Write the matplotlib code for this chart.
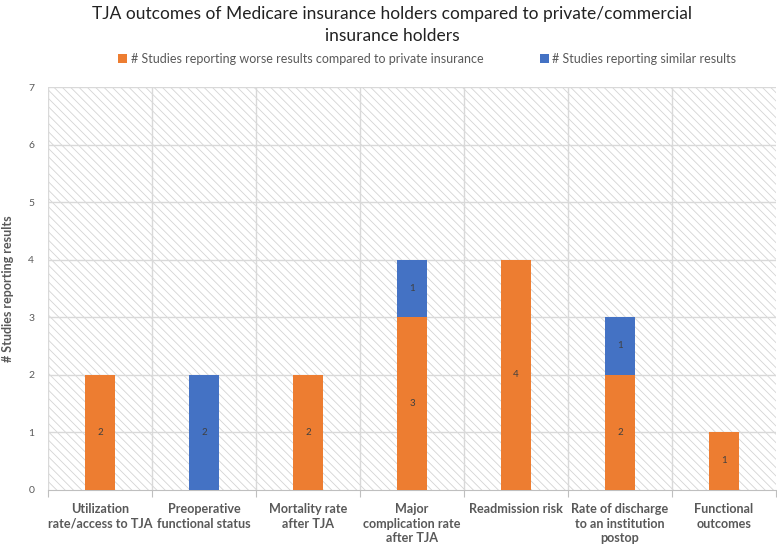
import matplotlib
matplotlib.use("Agg")
import matplotlib.pyplot as plt
import numpy as np
from matplotlib.patches import Rectangle

plt.rcParams['font.family'] = ['Lato', 'DejaVu Sans']
plt.rcParams['hatch.linewidth'] = 0.6
plt.rcParams['hatch.color'] = '#d4d4d4'

categories = ["Utilization\nrate/access to TJA", "Preoperative\nfunctional status",
              "Mortality rate\nafter TJA", "Major\ncomplication rate\nafter TJA",
              "Readmission risk", "Rate of discharge\nto an institution\npostop",
              "Functional\noutcomes"]
worse = [2, 0, 2, 3, 4, 2, 1]
similar = [0, 2, 0, 1, 0, 1, 0]

orange = '#ED7D31'
blue = '#4472C4'
gray = '#595959'

fig = plt.figure(figsize=(7.77, 5.5), dpi=100)
ax = fig.add_axes([0.0618, 0.11, 0.9369, 0.7318])

x = np.arange(len(categories))
w = 0.28

# hatched background
bg = Rectangle((0, 0), 1, 1, transform=ax.transAxes, facecolor='white',
               edgecolor='#d4d4d4', hatch='\\\\\\\\', lw=0, zorder=0)
ax.add_patch(bg)

b1 = ax.bar(x, worse, w, color=orange, zorder=3,
            label='# Studies reporting worse results compared to private insurance')
b2 = ax.bar(x, similar, w, bottom=worse, color=blue, zorder=3,
            label='# Studies reporting similar results')

for i in range(len(x)):
    if worse[i] > 0:
        ax.text(x[i], worse[i] / 2, str(worse[i]), ha='center', va='center',
                fontsize=7, color='#404040', zorder=4)
    if similar[i] > 0:
        ax.text(x[i], worse[i] + similar[i] / 2, str(similar[i]), ha='center',
                va='center', fontsize=7, color='#404040', zorder=4)

ax.set_xlim(-0.5, len(x) - 0.5)
ax.set_ylim(0, 7)
ax.set_yticks(range(0, 8))
for y in range(1, 8):
    ax.axhline(y, color='#d9d9d9', lw=1, zorder=1)
for b in np.arange(0.5, len(x) - 0.5, 1):
    ax.axvline(b, color='#d9d9d9', lw=1, zorder=1)
ax.axvline(-0.5, color='#d9d9d9', lw=1, zorder=1)

for s in ['top', 'right', 'left']:
    ax.spines[s].set_visible(False)
ax.spines['bottom'].set_color('#bfbfbf')

ax.set_xticks(np.arange(-0.5, len(x) + 0.5, 1))
ax.set_xticklabels([])
ax.tick_params(axis='x', length=5, color='#bfbfbf')
ax.tick_params(axis='y', length=0, labelsize=7.5, labelcolor=gray, pad=10)
for i, c in enumerate(categories):
    ax.text(x[i], -0.24, c, ha='center', va='top', fontsize=9.1,
            fontweight='bold', color=gray, linespacing=1.25)

ax.set_ylabel('# Studies reporting results', fontsize=9, fontweight='bold',
              color=gray)
ax.yaxis.set_label_coords(-0.047, 0.5)

fig.suptitle('TJA outcomes of Medicare insurance holders compared to private/commercial\ninsurance holders',
             x=0.505, y=0.99, fontsize=12.5, color='#222222', linespacing=1.5)

fig.legend(handles=[b1, b2], loc='center', bbox_to_anchor=(0.55, 0.893), ncol=2,
           frameon=False, fontsize=9, labelcolor=gray, handlelength=0.7,
           handleheight=0.7, handletextpad=0.3, columnspacing=4.5)

fig.savefig('out.png', dpi=100)
